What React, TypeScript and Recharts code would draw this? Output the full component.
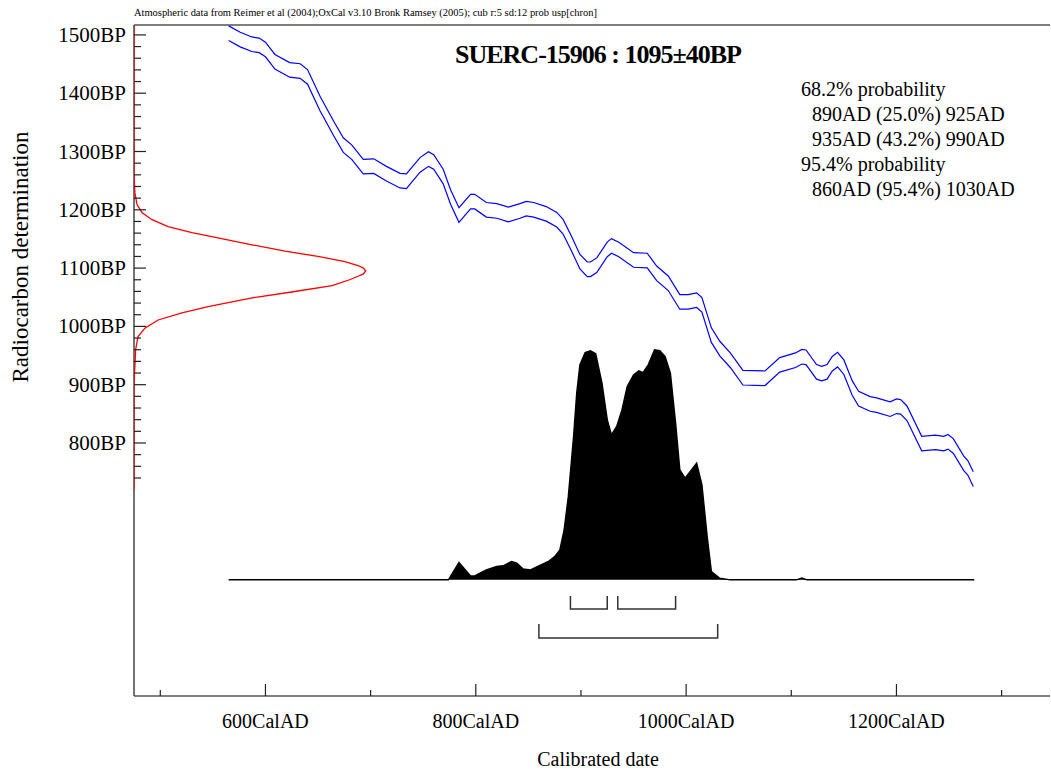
import React from 'react';
import { ComposedChart, Area, Scatter, XAxis, YAxis, Customized } from 'recharts';

const W = 1051;
const H = 774;
const SERIF = "'Liberation Serif', 'Times New Roman', Times, serif";

// calibration curve as plotted (cal AD vs BP, mean), band is +-1 sigma
const curveYear = [
  565, 576, 587, 594, 600, 609, 623, 633, 640, 652, 665, 674, 682, 693, 703, 715, 728, 734,
  747, 755, 760, 769, 776, 784, 795, 799, 810, 820, 831, 842, 848, 855, 867, 877, 883, 891,
  899, 906, 909, 915, 925, 929, 936, 950, 963, 972, 983, 994, 1002, 1010, 1015, 1024, 1032,
  1042, 1054, 1075, 1089, 1104, 1110, 1114, 1124, 1129, 1134, 1139, 1144, 1150, 1158, 1164,
  1175, 1181, 1194, 1200, 1204, 1210, 1224, 1237, 1245, 1249, 1254, 1264, 1268, 1273,
];
const curveBP = [
  1503, 1492, 1484, 1482, 1475, 1454, 1440, 1438, 1428, 1382, 1339, 1311, 1299, 1274, 1275, 1262, 1250, 1249,
  1277, 1287, 1282, 1257, 1222, 1191, 1214, 1214, 1200, 1198, 1192, 1198, 1202, 1200, 1193, 1183, 1171, 1142,
  1111, 1098, 1098, 1105, 1132, 1138, 1132, 1114, 1113, 1091, 1074, 1042, 1042, 1045, 1037, 985, 962,
  942, 912, 911, 934, 942, 948, 947, 922, 919, 922, 936, 943, 930, 894, 876,
  867, 865, 858, 863, 862, 851, 799, 801, 799, 802, 795, 765, 757, 738,
];
const CURVE_SIGMA = 12.5;

// radiocarbon measurement 1095 +- 40 BP, relative density
const redBP = [
  720, 900, 960, 982, 997, 1011, 1023, 1034, 1049, 1059, 1070, 1080, 1086, 1090, 1095, 1100, 1104,
  1111, 1120, 1129, 1140, 1152, 1161, 1171, 1183, 1195, 1209, 1229, 1260, 1517,
];
const redDensity = [
  0, 0, 0.007, 0.017, 0.047, 0.104, 0.207, 0.32, 0.51, 0.68, 0.855, 0.93, 0.967, 0.99, 1, 0.99, 0.97,
  0.91, 0.794, 0.652, 0.509, 0.362, 0.25, 0.147, 0.078, 0.035, 0.013, 0.004, 0, 0,
];

// calibrated distribution (relative probability)
const distYear = [
  565, 774, 784, 795, 799, 810, 820, 826, 834, 839, 845, 852, 860, 869, 875, 880, 884, 888,
  893, 896, 899, 904, 909, 914, 920, 925, 929, 934, 939, 944, 950, 955, 959, 964, 970, 975,
  980, 985, 990, 994, 999, 1004, 1010, 1015, 1020, 1024, 1032, 1042, 1105, 1110, 1115, 1274,
];
const distProb = [
  0, 0, 0.075, 0.017, 0.017, 0.043, 0.058, 0.061, 0.08, 0.073, 0.047, 0.043, 0.061, 0.08, 0.101, 0.13, 0.217, 0.362,
  0.623, 0.812, 0.935, 0.988, 0.996, 0.983, 0.855, 0.696, 0.63, 0.667, 0.739, 0.841, 0.891, 0.909, 0.901, 0.935, 1.0, 0.997,
  0.971, 0.899, 0.681, 0.478, 0.442, 0.471, 0.507, 0.413, 0.188, 0.036, 0.007, 0, 0, 0.008, 0, 0,
];

const range68 = [[890, 925], [935, 990]];
const range95 = [[860, 1030]];

const yTicks = [
  740, 760, 780, 800, 820, 840, 860, 880, 900, 920, 940, 960, 980, 1000, 1020, 1040, 1060, 1080, 1100,
  1120, 1140, 1160, 1180, 1200, 1220, 1240, 1260, 1280, 1300, 1320, 1340, 1360, 1380, 1400, 1420, 1440,
  1460, 1480, 1500,
];
const xTicks = [500, 600, 700, 800, 900, 1000, 1100, 1200, 1300];

const probLines = [
  { text: '68.2% probability', indent: false },
  { text: '890AD (25.0%) 925AD', indent: true },
  { text: '935AD (43.2%) 990AD', indent: true },
  { text: '95.4% probability', indent: false },
  { text: '860AD (95.4%) 1030AD', indent: true },
];

const upperRows = curveYear.map((x, i) => ({ x, y: curveBP[i] + CURVE_SIGMA }));
const lowerRows = curveYear.map((x, i) => ({ x, y: curveBP[i] - CURVE_SIGMA }));
const redRows = redBP.map((y, i) => ({ x: redDensity[i], y }));
const distRows = distYear.map((x, i) => ({ x, y: distProb[i] }));

// bracket levels on the probability axis (below the baseline)
const bracket = (r: number[], top: number, bottom: number) => [
  { x: r[0], y: top },
  { x: r[0], y: bottom },
  { x: r[1], y: bottom },
  { x: r[1], y: top },
];
const brackets = [
  ...range68.map((r) => bracket(r, -0.07, -0.127)),
  ...range95.map((r) => bracket(r, -0.192, -0.253)),
];

const noShape = () => <g />;

const YTick = (props: any) => {
  const { x, y, payload } = props;
  const v = payload.value;
  const major = v % 100 === 0;
  return (
    <g>
      <line x1={x} x2={x + (major ? 12 : 7)} y1={y} y2={y} stroke="#222" strokeWidth={1.2} />
      {major && (
        <text x={x - 8} y={y + 7} textAnchor="end" fontFamily={SERIF} fontSize={21} fill="#000">
          {v}BP
        </text>
      )}
    </g>
  );
};

const XTick = (props: any) => {
  const { x, y, payload } = props;
  const v = payload.value;
  const major = v % 200 === 0;
  return (
    <g>
      <line x1={x} x2={x} y1={y} y2={y - (major ? 12 : 6)} stroke="#222" strokeWidth={1.2} />
      {major && (
        <text x={x} y={y + 32} textAnchor="middle" fontFamily={SERIF} fontSize={20} fill="#000">
          {v}CalAD
        </text>
      )}
    </g>
  );
};

const Annotations = () => (
  <g fontFamily={SERIF} fill="#000">
    <text x={134} y={16} fontSize={11} textLength={463} lengthAdjust="spacingAndGlyphs">
      Atmospheric data from Reimer et al (2004);OxCal v3.10 Bronk Ramsey (2005); cub r:5 sd:12 prob usp[chron]
    </text>
    <text x={598} y={63} textAnchor="middle" fontSize={26} fontWeight="bold" letterSpacing={-1}>
      SUERC-15906 : 1095±40BP
    </text>
    {probLines.map((l, i) => (
      <text key={i} x={l.indent ? 812 : 801} y={96 + i * 25} fontSize={20}>
        {l.text}
      </text>
    ))}
    <text transform="translate(28,257) rotate(-90)" textAnchor="middle" fontSize={23}>
      Radiocarbon determination
    </text>
    <text x={598} y={766} textAnchor="middle" fontSize={20}>
      Calibrated date
    </text>
  </g>
);

export default function App() {
  return (
    <div style={{ position: 'absolute', left: 0, top: 0, background: '#fff' }}>
      <ComposedChart width={W} height={H} data={distRows} margin={{ top: 24, right: 1, left: 0, bottom: 0 }}>
        <XAxis
          xAxisId="year"
          type="number"
          dataKey="x"
          domain={[475, 1346]}
          allowDataOverflow
          ticks={xTicks}
          interval={0}
          height={78}
          tickSize={0}
          tickMargin={0}
          tickLine={false}
          tick={XTick}
          axisLine={{ stroke: '#000', strokeWidth: 1.2 }}
        />
        <XAxis
          xAxisId="top"
          orientation="top"
          type="number"
          dataKey="x"
          domain={[475, 1346]}
          allowDataOverflow
          height={1}
          tick={false}
          tickLine={false}
          axisLine={{ stroke: '#000', strokeWidth: 1.2 }}
        />
        <XAxis xAxisId="pdf" type="number" dataKey="x" domain={[0, 3.953]} allowDataOverflow height={0} hide />
        <YAxis
          yAxisId="bp"
          type="number"
          dataKey="y"
          domain={[366, 1517]}
          allowDataOverflow
          ticks={yTicks}
          interval={0}
          width={134}
          tickSize={0}
          tickMargin={0}
          tickLine={false}
          tick={YTick}
          axisLine={{ stroke: '#444', strokeWidth: 1.5 }}
        />
        <YAxis yAxisId="prob" type="number" dataKey="y" domain={[-0.505, 2.413]} allowDataOverflow width={0} hide />

        <Area
          xAxisId="year"
          yAxisId="prob"
          dataKey="y"
          type="linear"
          baseValue={0}
          stroke="#000"
          strokeWidth={1.5}
          fill="#000"
          fillOpacity={1}
          dot={false}
          activeDot={false}
          isAnimationActive={false}
        />
        <Scatter
          xAxisId="year"
          yAxisId="bp"
          data={upperRows}
          line={{ stroke: '#0000ff', strokeWidth: 1.2 }}
          shape={noShape}
          isAnimationActive={false}
        />
        <Scatter
          xAxisId="year"
          yAxisId="bp"
          data={lowerRows}
          line={{ stroke: '#0000ff', strokeWidth: 1.2 }}
          shape={noShape}
          isAnimationActive={false}
        />
        <Scatter
          xAxisId="pdf"
          yAxisId="bp"
          data={redRows}
          line={{ stroke: '#ff0000', strokeWidth: 1.3 }}
          shape={noShape}
          isAnimationActive={false}
        />
        {brackets.map((rows, i) => (
          <Scatter
            key={i}
            xAxisId="year"
            yAxisId="prob"
            data={rows}
            line={{ stroke: '#333', strokeWidth: 1.5 }}
            shape={noShape}
            isAnimationActive={false}
          />
        ))}
        <Customized component={Annotations} />
      </ComposedChart>
    </div>
  );
}
